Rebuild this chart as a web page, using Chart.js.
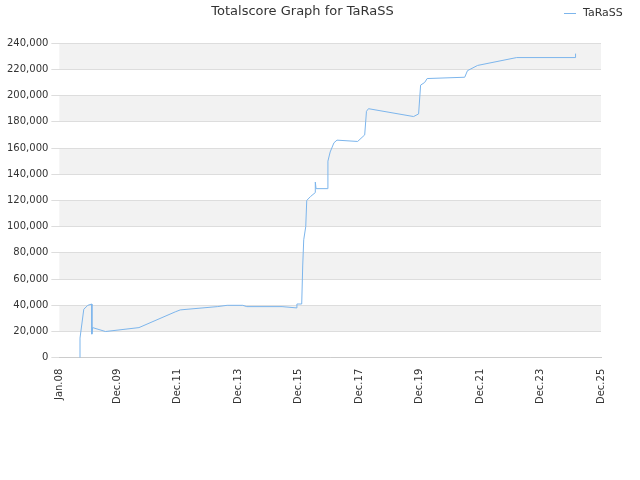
<!DOCTYPE html>
<html><head><script src="https://cdn.jsdelivr.net/npm/chart.js@4"></script>
<style>body{margin:0}#c{width:640px;height:480px}</style></head>
<body><div id="c"><canvas id="cv"></canvas></div>
<script>
const tickMonths=[0,23,47,71,95,119,143,167,191,215];
const tickLabels=["Jan.08","Dec.09","Dec.11","Dec.13","Dec.15","Dec.17","Dec.19","Dec.21","Dec.23","Dec.25"];
const months=[8.2,8.2,9.7,11.3,12.9,12.9,13.2,18.3,31.6,46,48,62.7,66.6,72.8,74.4,88.4,94.3,94.3,96.2,96.6,97,97.8,98.2,99.7,101.6,101.6,101.9,106.3,106.6,107.5,109,110.2,118.4,121.2,121.9,122.7,140.6,142.6,143.4,145,146,160.9,162,166,181.5,204.9,204.9];
const scores=[0,15000,37000,40000,41000,18000,23000,20000,23000,35000,36500,39000,40000,40000,39000,39000,38000,41000,41000,70000,90000,100000,120000,123000,126000,134000,129000,129000,150000,157000,164000,166000,165000,170000,188000,190000,184000,186000,208000,210000,213000,214000,219000,223000,229000,229000,232000];
const bands={id:'bands',beforeDraw(c){const {ctx,chartArea:a,scales:{y}}=c;ctx.save();ctx.fillStyle='#f2f2f2';for(let v=20000;v<240000;v+=40000){const t=y.getPixelForValue(Math.min(v+20000,245000)),b=y.getPixelForValue(v);ctx.fillRect(a.left,t,a.right-a.left,b-t);}ctx.restore();},
afterDraw(c){const ctx=c.ctx;ctx.save();ctx.strokeStyle='#7cb5ec';ctx.lineWidth=1;ctx.beginPath();ctx.moveTo(564,13.5);ctx.lineTo(576,13.5);ctx.stroke();ctx.fillStyle='#333';ctx.font='11px DejaVu Sans';ctx.textBaseline='middle';ctx.fillText(c.data.datasets[0].label,583,13);ctx.restore();}};
new Chart(document.getElementById('cv'),{type:'line',plugins:[bands],
data:{datasets:[{label:'TaRaSS',data:months.map((m,i)=>({x:m,y:scores[i]})),borderColor:'#7cb5ec',backgroundColor:'#7cb5ec',borderWidth:1,pointRadius:0,fill:false}]},
options:{responsive:true,maintainAspectRatio:false,animation:false,
layout:{padding:{left:4,right:39,bottom:73,top:0}},
plugins:{legend:{display:false},title:{display:true,text:'Totalscore Graph for TaRaSS',color:'#333',font:{family:'DejaVu Sans',size:13,weight:'normal'},padding:{top:4,bottom:17}},tooltip:{enabled:false}},
scales:{x:{type:'linear',min:0,max:215,afterBuildTicks(s){s.ticks=tickMonths.map(v=>({value:v}));},
ticks:{callback:(v)=>tickLabels[tickMonths.indexOf(v)],maxRotation:90,minRotation:90,color:'#333',font:{family:'DejaVu Sans',size:10}},grid:{display:false},border:{color:'#ccc'}},
y:{min:0,max:245000,afterBuildTicks(s){s.ticks=[];for(let v=0;v<=240000;v+=20000)s.ticks.push({value:v});},ticks:{color:'#333',font:{family:'DejaVu Sans',size:10}},grid:{color:'#ddd'},border:{display:false}}}}});
</script></body></html>
